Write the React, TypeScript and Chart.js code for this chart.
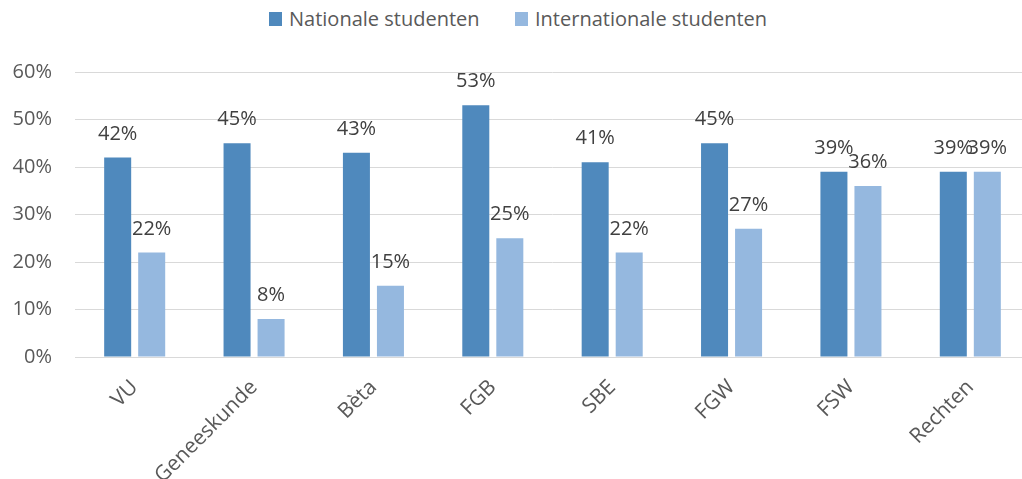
import React, { useEffect, useRef } from "react";
import { Chart, registerables } from "chart.js";

Chart.register(...registerables);

const categories = ["VU", "Geneeskunde", "Bèta", "FGB", "SBE", "FGW", "FSW", "Rechten"];
const nationaal = [42, 45, 43, 53, 41, 45, 39, 39];
const internationaal = [22, 8, 15, 25, 22, 27, 36, 39];
const seriesNames = ["Nationale studenten", "Internationale studenten"];
const colors = ["#4f89bd", "#95b8df"];

const FONT = "'Open Sans', sans-serif";

const labelPlugin = {
  id: "barLabels",
  afterDatasetsDraw(chart: any) {
    const ctx = chart.ctx;
    ctx.save();
    ctx.font = `20px ${FONT}`;
    ctx.fillStyle = "#404040";
    ctx.textAlign = "center";
    ctx.textBaseline = "alphabetic";
    chart.data.datasets.forEach((ds: any, i: number) => {
      const meta = chart.getDatasetMeta(i);
      meta.data.forEach((el: any, j: number) => {
        ctx.fillText(ds.data[j] + "%", el.x, el.y - 18);
      });
    });
    ctx.restore();
  },
};

export default function App() {
  const ref = useRef<HTMLCanvasElement>(null);
  useEffect(() => {
    if (!ref.current) return;
    const chart = new Chart(ref.current, {
      type: "bar",
      data: {
        labels: categories,
        datasets: [
          { label: seriesNames[0], data: nationaal, backgroundColor: colors[0] },
          { label: seriesNames[1], data: internationaal, backgroundColor: colors[1] },
        ],
      },
      options: {
        animation: false,
        responsive: false,
        maintainAspectRatio: false,
        layout: { padding: { top: 72, right: 10, left: 0, bottom: 0 } },
        datasets: { bar: { categoryPercentage: 0.57, barPercentage: 0.794 } },
        plugins: { legend: { display: false }, tooltip: { enabled: false } },
        scales: {
          x: {
            grid: { display: false, drawTicks: false },
            border: { display: true, color: "#d9d9d9", width: 1 },
            ticks: {
              color: "#595959",
              font: { family: FONT, size: 21 },
              minRotation: 45,
              maxRotation: 45,
              padding: 18,
            },
            afterFit: (s: any) => {
              s.height = 122;
            },
          },
          y: {
            min: 0,
            max: 60,
            grid: { color: "#d9d9d9", lineWidth: 1, drawTicks: false },
            border: { display: false },
            ticks: {
              stepSize: 10,
              color: "#595959",
              font: { family: FONT, size: 20 },
              padding: 23,
              callback: (v: any) => v + "%",
            },
            afterFit: (s: any) => {
              s.width = 75;
            },
          },
        },
      },
      plugins: [labelPlugin],
    });
    return () => chart.destroy();
  }, []);

  const legendItem = (i: number, left: number) => (
    <div
      style={{
        position: "absolute",
        top: 5,
        left,
        display: "flex",
        alignItems: "center",
        fontFamily: FONT,
        fontSize: 20,
        color: "#595959",
        lineHeight: "28px",
        whiteSpace: "nowrap",
      }}
    >
      <span style={{ width: 13, height: 14, background: colors[i], display: "inline-block", marginRight: 7 }} />
      <span>{seriesNames[i]}</span>
    </div>
  );

  return (
    <div style={{ position: "absolute", left: 0, top: 0, width: 1022, height: 479, overflow: "hidden", background: "#fff" }}>
      {legendItem(0, 269)}
      {legendItem(1, 515)}
      <canvas ref={ref} width={1040} height={479} style={{ position: "absolute", left: 0, top: 0 }} />
    </div>
  );
}
